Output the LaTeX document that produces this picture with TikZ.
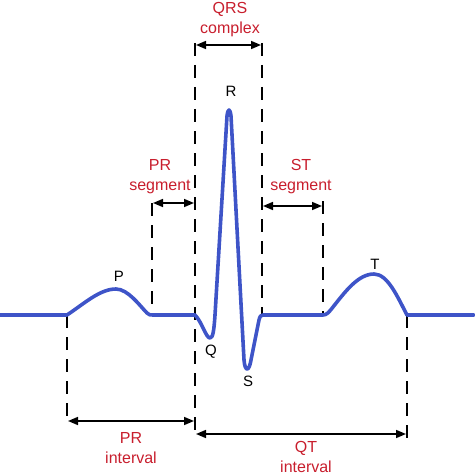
\documentclass[tikz,border=0pt]{standalone}
\usepackage{fontspec}
\setmainfont{Liberation Sans}
\usepackage{xcolor}
\usetikzlibrary{arrows.meta}
\definecolor{ecgblue}{RGB}{62,84,200}
\definecolor{labelred}{RGB}{200,30,45}

\tikzset{
  guide/.style={black,line width=2.2pt,dash pattern=on 13pt off 9pt},
  span/.style={black,line width=1.6pt,{Triangle[length=10pt,width=8pt]}-{Triangle[length=10pt,width=8pt]},shorten <=1pt,shorten >=1pt},
  redlabel/.style={color=labelred,align=center,font=\fontsize{16}{20}\selectfont},
  wavelabel/.style={color=black,font=\fontsize{15}{18}\selectfont},
  trace/.style={ecgblue,line width=3.6pt,line join=round,line cap=round}
}

\begin{document}
\begin{tikzpicture}[x=1pt,y=-1pt]
      \useasboundingbox (0,0) rectangle (474,476);
      % guide line ends
      \coordinate (ponTop) at (67,315);   \coordinate (ponBot) at (67,423);
      \coordinate (poffTop) at (152,203); \coordinate (poffBot) at (152,315);
      \coordinate (qonTop) at (195,43);   \coordinate (qonBot) at (195,438);
      \coordinate (soffTop) at (262,43);  \coordinate (soffBot) at (262,315);
      \coordinate (tonTop) at (323,201);  \coordinate (tonBot) at (323,315);
      \coordinate (toffTop) at (407,315); \coordinate (toffBot) at (407,438);
      \draw[guide] (ponTop) -- (ponBot);
      \draw[guide] (poffTop) -- (poffBot);
      \draw[guide] (qonTop) -- (qonBot);
      \draw[guide] (soffTop) -- (soffBot);
      \draw[guide] (tonTop) -- (tonBot);
      \draw[guide] (toffTop) -- (toffBot);
      % the trace
      \draw[trace] (0,315) -- (67,315)
        .. controls (85,303) and (100,289) .. (116,289)
        .. controls (128,289) and (140,306) .. (147,313)
        .. controls (149,315) and (150,315) .. (153,315) -- (195,315)
        .. controls (202,322) and (206,338) .. (210,338)
        .. controls (213,338) and (214,330) .. (215,315) -- (227,116)
        .. controls (228,108) and (230,108) .. (231,116) -- (244,360)
        .. controls (245,372) and (249,372) .. (251,360) -- (259,320)
        .. controls (260,316) and (261,315) .. (263,315) -- (323,315)
        .. controls (327,315) and (329,312) .. (333,307)
        .. controls (345,292) and (358,274) .. (374,274)
        .. controls (388,274) and (398,298) .. (407,315) -- (474,315);
      % spans
      \coordinate (qrsL) at (195,45);   \coordinate (qrsR) at (262,45);
      \coordinate (prsL) at (152,203);  \coordinate (prsR) at (195,203);
      \coordinate (stsL) at (262,206);  \coordinate (stsR) at (323,206);
      \coordinate (priL) at (67,421);   \coordinate (priR) at (195,421);
      \coordinate (qtiL) at (195,434);  \coordinate (qtiR) at (407,434);
      \draw[span] (qrsL) -- (qrsR);
      \draw[span] (prsL) -- (prsR);
      \draw[span] (stsL) -- (stsR);
      \draw[span] (priL) -- (priR);
      \draw[span] (qtiL) -- (qtiR);
      % labels
      \node[redlabel] (qrsText) at (230,20)  {QRS\\complex};
      \node[redlabel] (prsText) at (160,177) {PR\\segment};
      \node[redlabel] (stsText) at (301,177) {ST\\segment};
      \node[redlabel] (priText) at (131,448) {PR\\interval};
      \node[redlabel] (qtiText) at (306,457) {QT\\interval};
      \node[wavelabel] (pText) at (119,276) {P};
      \node[wavelabel] (qText) at (211,352) {Q};
      \node[wavelabel] (rText) at (231,91)  {R};
      \node[wavelabel] (sText) at (248,381) {S};
      \node[wavelabel] (tText) at (375,264) {T};
    \end{tikzpicture}
\end{document}
